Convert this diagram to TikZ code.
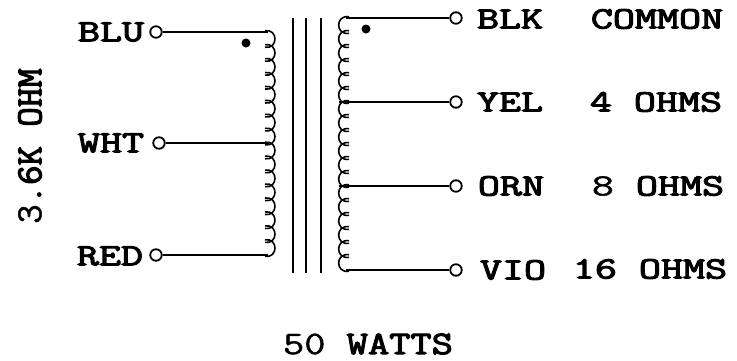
\documentclass[tikz,border=0pt]{standalone}
\usepackage{fontspec}
\newfontfamily\lbf{Latin Modern Mono}[FakeBold=3]
\newfontfamily\lmd{Latin Modern Mono}[FakeBold=1.2]
\newcommand{\labtxt}[1]{\scalebox{1.38}[1]{\fontsize{31}{31}\selectfont\lbf #1}}
\newcommand{\sidetxt}[1]{\scalebox{1.02}[1]{\fontsize{37}{37}\selectfont\lbf #1}}
\newcommand{\wattxt}[1]{\scalebox{1.25}[1]{\fontsize{33}{33}\selectfont\lbf #1}}
\tikzset{
  term/.style={circle,draw=black,fill=white,line width=1.8pt,minimum size=11.5pt,inner sep=0pt},
  lab/.style={inner sep=0pt,text=black},
  wire/.style={line width=1.8pt,black},
  coil/.style={line width=1.6pt,black},
  corel/.style={line width=1.6pt,black},
  phase/.style={circle,fill=black,minimum size=9pt,inner sep=0pt}
}
\begin{document}
\begin{tikzpicture}[x=1pt,y=-1pt]
\useasboundingbox (0,0) rectangle (737,360);
% terminals
\node[term] (blu) at (156,32) {};
\node[term] (wht) at (159,143) {};
\node[term] (red) at (156,255) {};
\node[term] (blk) at (456,18) {};
\node[term] (yel) at (456,102) {};
\node[term] (orn) at (456,186) {};
\node[term] (vio) at (456,270) {};
% coil connection points
\coordinate (ltop) at (268,32);
\coordinate (lmid) at (269,143);
\coordinate (lbot) at (268,255);
\coordinate (rtop) at (345.5,18);
\coordinate (ryel) at (339,102);
\coordinate (rorn) at (339,186);
\coordinate (rbot) at (345.5,270);
% wires
\draw[wire] (blu) -- (ltop);
\draw[wire] (wht) -- (lmid);
\draw[wire] (red) -- (lbot);
\draw[wire] (blk) -- (rtop);
\draw[wire] (yel) -- (ryel);
\draw[wire] (orn) -- (rorn);
\draw[wire] (vio) -- (rbot);
% left winding
\foreach \i in {0,...,15} {
  \pgfmathsetmacro{\ya}{32+13.94*\i}
  \pgfmathsetmacro{\yb}{\ya+13.94}
  \draw[coil] (265,\ya-1.3) .. controls (278.3,\ya-3.4) and (278.3,\yb+3.4) .. (265,\yb+1.3);
}
% right winding
\foreach \i in {0,...,17} {
  \pgfmathsetmacro{\ya}{18+14*\i}
  \pgfmathsetmacro{\yb}{\ya+14}
  \draw[coil] (349,\ya-1.3) .. controls (335.2,\ya-3.4) and (335.2,\yb+3.4) .. (349,\yb+1.3);
}
% core
\coordinate (c1t) at (293,18); \coordinate (c1b) at (293,273);
\coordinate (c2t) at (306,18); \coordinate (c2b) at (306,273);
\coordinate (c3t) at (321,18); \coordinate (c3b) at (321,273);
\draw[corel] (c1t) -- (c1b);
\draw[corel] (c2t) -- (c2b);
\draw[corel] (c3t) -- (c3b);
% phase dots
\node[phase] (dotl) at (246,43) {};
\node[phase] (dotr) at (366,29) {};
% labels
\node[lab] (tblu) at (111,32) {\labtxt{BLU}};
\node[lab] (twht) at (111,143) {\labtxt{WHT}};
\node[lab] (tred) at (110,256) {\labtxt{RED}};
\node[lab] (tblk) at (510,19) {\labtxt{BLK}};
\node[lab] (tyel) at (510,102) {\labtxt{YEL}};
\node[lab] (torn) at (511,186) {\labtxt{ORN}};
\node[lab] (tvio) at (513,270) {\labtxt{VIO}};
\node[lab] (tcom) at (657,19) {\labtxt{COMMON}};
\node[lab] (t4) at (656,102) {\labtxt{4 OHMS}};
\node[lab] (t8) at (658,186) {\labtxt{{\lmd 8} OHMS}};
\node[lab] (t16) at (650,269) {\labtxt{16 OHMS}};
\node[lab,rotate=90] (tohm) at (30,146) {\sidetxt{{\lmd 3.}6K OHM}};
\node[lab] (twatt) at (368,344) {\wattxt{{\lmd 50} WATTS}};
\end{tikzpicture}
\end{document}
